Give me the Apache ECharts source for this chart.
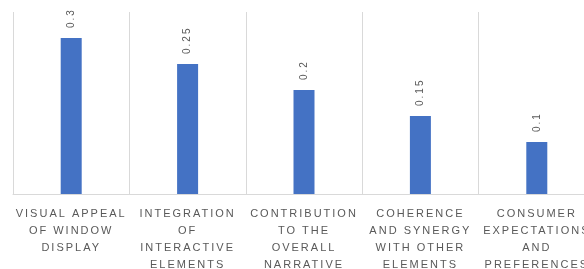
<!DOCTYPE html>
<html>
<head>
<meta charset="utf-8">
<script src="https://cdn.jsdelivr.net/npm/echarts@6/dist/echarts.min.js"></script>
<style>
html,body{margin:0;padding:0;background:#fff;overflow:hidden;}
#main{width:600px;height:269px;}
</style>
</head>
<body>
<div id="main"></div>
<script>
var categories = [
    'VISUAL APPEAL\nOF WINDOW\nDISPLAY',
    'INTEGRATION\nOF\nINTERACTIVE\nELEMENTS',
    'CONTRIBUTION\nTO THE\nOVERALL\nNARRATIVE',
    'COHERENCE\nAND SYNERGY\nWITH OTHER\nELEMENTS',
    'CONSUMER\nEXPECTATIONS\nAND\nPREFERENCES'
];
var values = [0.3, 0.25, 0.2, 0.15, 0.1];

var myChart = echarts.init(document.getElementById('main'));

var option = {
    animation: false,
    grid: {left: 13, top: 12, width: 582, bottom: 75, containLabel: false, outerBoundsMode: 'none'},
    xAxis: {
        type: 'category',
        data: categories,
        axisLine: {lineStyle: {color: '#d9d9d9', width: 1}},
        axisTick: {show: false},
        splitLine: {show: true, lineStyle: {color: '#d9d9d9', width: 1}},
        axisLabel: {
            interval: 0,
            color: '#595959',
            fontFamily: 'Liberation Sans',
            fontSize: 11,
            lineHeight: 17,
            margin: 11
        }
    },
    yAxis: {
        type: 'value',
        min: 0,
        max: 0.35,
        show: false,
        splitLine: {show: false}
    },
    series: [{
        type: 'bar',
        data: values,
        barWidth: 21,
        itemStyle: {color: '#4472c4'},
        label: {
            show: true,
            position: 'top',
            rotate: 90,
            align: 'left',
            verticalAlign: 'middle',
            distance: 10,
            color: '#595959',
            fontFamily: 'Liberation Sans',
            fontSize: 10
        }
    }]
};
myChart.setOption(option);

// spaced out letters like the office chart
var cv = myChart.getDom().querySelector('canvas');
if (cv) {
    cv.getContext('2d').letterSpacing = '2px';
    myChart.setOption(option, true);
}
</script>
</body>
</html>
